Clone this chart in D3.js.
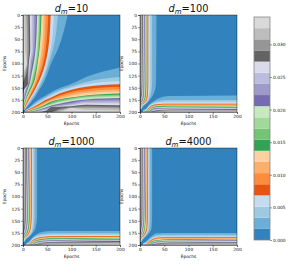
<!DOCTYPE html>
<meta charset="utf-8">
<style>
body { margin: 0; background: #fff; }
text { font-family: "DejaVu Sans", sans-serif; fill: #111; }
.axis text { font-size: 4.4px; }
.axis path, .axis line { stroke: #000; stroke-width: 0.4px; }
.label { font-size: 4.4px; text-anchor: middle; }
.title { font-size: 9.8px; text-anchor: middle; }
</style>
<svg id="chart" width="291" height="264" style="display:block"></svg>
<script src="https://d3js.org/d3.v7.min.js"></script>
<script>

// colour levels, lowest first
var levelColors = ["#3182bd","#6baed6","#9ecae1","#c6dbef","#e6550d","#fd8d3c","#fdae6b","#fdd0a2",
                   "#31a354","#74c476","#a1d99b","#c7e9c0","#756bb1","#9e9ac8","#bcbddc","#dadaeb",
                   "#636363","#969696","#bdbdbd","#d9d9d9"];
var levelStep = 0.00171;
var colorTicks = [0, 0.005, 0.01, 0.015, 0.02, 0.025, 0.03];
var xTicks = [0, 50, 100, 150, 200];
var yTicks = [0, 25, 50, 75, 100, 125, 150, 175, 200];

// distance from the last epoch (flipped y) at which the edges below were read
var rows10 = [200, 130, 100, 75, 60, 45, 30, 15, 5];
var rowsWide = [200, 60, 35, 25, 18, 12, 6];

// epoch where colour level 1, 2, ... 19 starts, one line per level, one column per row
var edges10 = [
  [92,72,58,49,42,33,24,12,4],
  [72,62,53,45,38,30,21,10,3],
  [64,57,50,42,35,27,18,9,3],
  [57,52,46,38,31,24,15,7,2],
  [52,47,42,34,28,21,13,6,1],
  [47,43,38,31,26,19,11,5,1],
  [43,39,34,28,24,17,10,4,1],
  [38,34,30,26,22,15,8,3,0],
  [36,33,29,24,20,13,7,2,0],
  [34,31,27,22,18,12,6,2,0],
  [32,29,25,20,16,11,5,1,0],
  [29,26,22,17,14,9,4,0,0],
  [26,24,19,15,12,7,3,0,0],
  [22,21,16,13,11,5,2,0,0],
  [18,18,14,12,11,4,1,0,0],
  [14,15,12,11,11,2,0,0,0],
  [11,12,10,6,0,0,0,0,0],
  [7,9,8,3,0,0,0,0,0],
  [3,4,8,0,0,0,0,0,0]
];
var edges100 = [
  [34,33,27,20,14,7,3],
  [25,25,22,18,13,5,3],
  [21,21,19,16,11,4,2],
  [17,17,16,14,8,1,0],
  [16,16,15,13,7,0,0],
  [15,15,14,12,6,0,0],
  [14,14,13,11,5,0,0],
  [13,13,12,10,4,0,0],
  [12.5,12,11,9,3,0,0],
  [12,11,10,8,3,0,0],
  [11,10,9,7,2,0,0],
  [10,9,8,6,1,0,0],
  [9,8,7,5,0,0,0],
  [8,7,6,3,0,0,0],
  [7,6,5,2,0,0,0],
  [6,5,4,1,0,0,0],
  [4.5,4,3,0,0,0,0],
  [3,3,1,0,0,0,0],
  [1.5,1,0,0,0,0,0]
];
var edges1000 = [
  [29,29,26,20,14,7,3],
  [24,24,22,18,12,5,2],
  [21,21,19,16,11,4,2],
  [18.5,18,16,13,8,1,0],
  [17.5,17,15,12,7,0,0],
  [16.5,16,14,11,6,0,0],
  [15.5,15,13,10,5,0,0],
  [14.5,14,12,9,4,0,0],
  [14,13,11,8,3,0,0],
  [13.5,12,10,7,3,0,0],
  [13,11,9,6,2,0,0],
  [12,10,8,5,1,0,0],
  [11,9,7,4,0,0,0],
  [10,8,6,3,0,0,0],
  [9,7,5,2,0,0,0],
  [8,6,4,1,0,0,0],
  [6,5,3,0,0,0,0],
  [4,3,1,0,0,0,0],
  [2,1,0,0,0,0,0]
];
var edges4000 = [
  [25,25,24,19,13,7,3],
  [21,21,20,16,11,5,2],
  [18,18,17,14,9,4,2],
  [16,16,15,12,7,1,0],
  [15,15,14,11,6,0,0],
  [14,14,13,10,5,0,0],
  [13,13,12,9,4,0,0],
  [12.5,12,10,8,3,0,0],
  [12,11,9,7,3,0,0],
  [11.5,10,9,6,2,0,0],
  [11,10,8,5,2,0,0],
  [10,9,7,4,1,0,0],
  [9,8,6,3,0,0,0],
  [8,7,5,2,0,0,0],
  [7,6,4,2,0,0,0],
  [5.5,5,3,1,0,0,0],
  [4,4,2,0,0,0,0],
  [3,2,1,0,0,0,0],
  [1.5,1,0,0,0,0,0]
];

var panels = [
  { name: "10",   rows: rows10,   edges: edges10,   left: 23,  top: 15 },
  { name: "100",  rows: rowsWide, edges: edges100,  left: 140, top: 15 },
  { name: "1000", rows: rowsWide, edges: edges1000, left: 23,  top: 148 },
  { name: "4000", rows: rowsWide, edges: edges4000, left: 140, top: 148 }
];
var panelSize = 97;

var svg = d3.select("#chart");

panels.forEach(function (p, i) {
  var x = d3.scaleLinear().domain([0, 200]).range([0, panelSize]);
  var y = d3.scaleLinear().domain([0, 200]).range([0, panelSize]);
  var g = svg.append("g").attr("transform", "translate(" + p.left + "," + p.top + ")");

  var clipId = "clip" + i;
  g.append("clipPath").attr("id", clipId)
    .append("rect").attr("width", panelSize).attr("height", panelSize);

  var cells = g.append("g").attr("clip-path", "url(#" + clipId + ")")
    .style("filter", "blur(0.35px)");

  cells.append("rect")
    .attr("width", panelSize)
    .attr("height", panelSize)
    .attr("fill", levelColors[0]);

  // left arm, epochs along x
  var leftArm = d3.area()
    .y(function (d) { return y(200 - d.b); })
    .x0(x(0))
    .x1(function (d) { return x(d.a); })
    .curve(d3.curveMonotoneY);

  // bottom arm, the same edges mirrored over the diagonal
  var bottomArm = d3.area()
    .x(function (d) { return x(d.b); })
    .y0(y(200))
    .y1(function (d) { return y(200 - d.a); })
    .curve(d3.curveMonotoneX);

  p.edges.forEach(function (edge, k) {
    var pts = edge.map(function (a, j) { return { a: a, b: p.rows[j] }; });
    cells.append("path").attr("d", leftArm(pts)).attr("fill", levelColors[k + 1]);
    cells.append("path").attr("d", bottomArm(pts.slice().reverse())).attr("fill", levelColors[k + 1]);
  });

  g.append("g").attr("class", "axis")
    .attr("transform", "translate(0," + panelSize + ")")
    .call(d3.axisBottom(x).tickValues(xTicks).tickSize(2).tickPadding(1));
  g.append("g").attr("class", "axis")
    .call(d3.axisLeft(y).tickValues(yTicks).tickSize(2).tickPadding(1));

  g.append("rect")
    .attr("width", panelSize)
    .attr("height", panelSize)
    .attr("fill", "none")
    .attr("stroke", "#000")
    .attr("stroke-width", 0.4);

  var title = g.append("text").attr("class", "title")
    .attr("x", panelSize / 2)
    .attr("y", -3);
  title.append("tspan").style("font-style", "italic").text("d");
  title.append("tspan").style("font-style", "italic").style("font-size", "7px").attr("dy", 1.5).text("m");
  title.append("tspan").attr("dy", -1.5).text("=" + p.name);

  g.append("text").attr("class", "label")
    .attr("x", panelSize / 2)
    .attr("y", panelSize + 12.5)
    .text("Epochs");
  g.append("text").attr("class", "label")
    .attr("transform", "translate(-17.5," + panelSize / 2 + ") rotate(-90)")
    .text("Epochs");
});

// colour bar
var barScale = d3.scaleLinear().domain([0, levelStep * 20]).range([240, 17]);
var bar = svg.append("g");

bar.selectAll("rect.level")
  .data(levelColors)
  .enter()
  .append("rect")
  .attr("class", "level")
  .attr("x", 254)
  .attr("width", 16)
  .attr("y", function (d, i) { return barScale((i + 1) * levelStep); })
  .attr("height", function (d, i) { return barScale(i * levelStep) - barScale((i + 1) * levelStep); })
  .attr("fill", function (d) { return d; });

bar.append("rect")
  .attr("x", 254)
  .attr("y", 17)
  .attr("width", 16)
  .attr("height", 223)
  .attr("fill", "none")
  .attr("stroke", "#888")
  .attr("stroke-width", 0.8);

bar.append("g").attr("class", "axis")
  .attr("transform", "translate(270,0)")
  .call(d3.axisRight(barScale).tickValues(colorTicks).tickFormat(d3.format(".3f")).tickSize(2).tickPadding(1))
  .select(".domain").remove();

</script>
